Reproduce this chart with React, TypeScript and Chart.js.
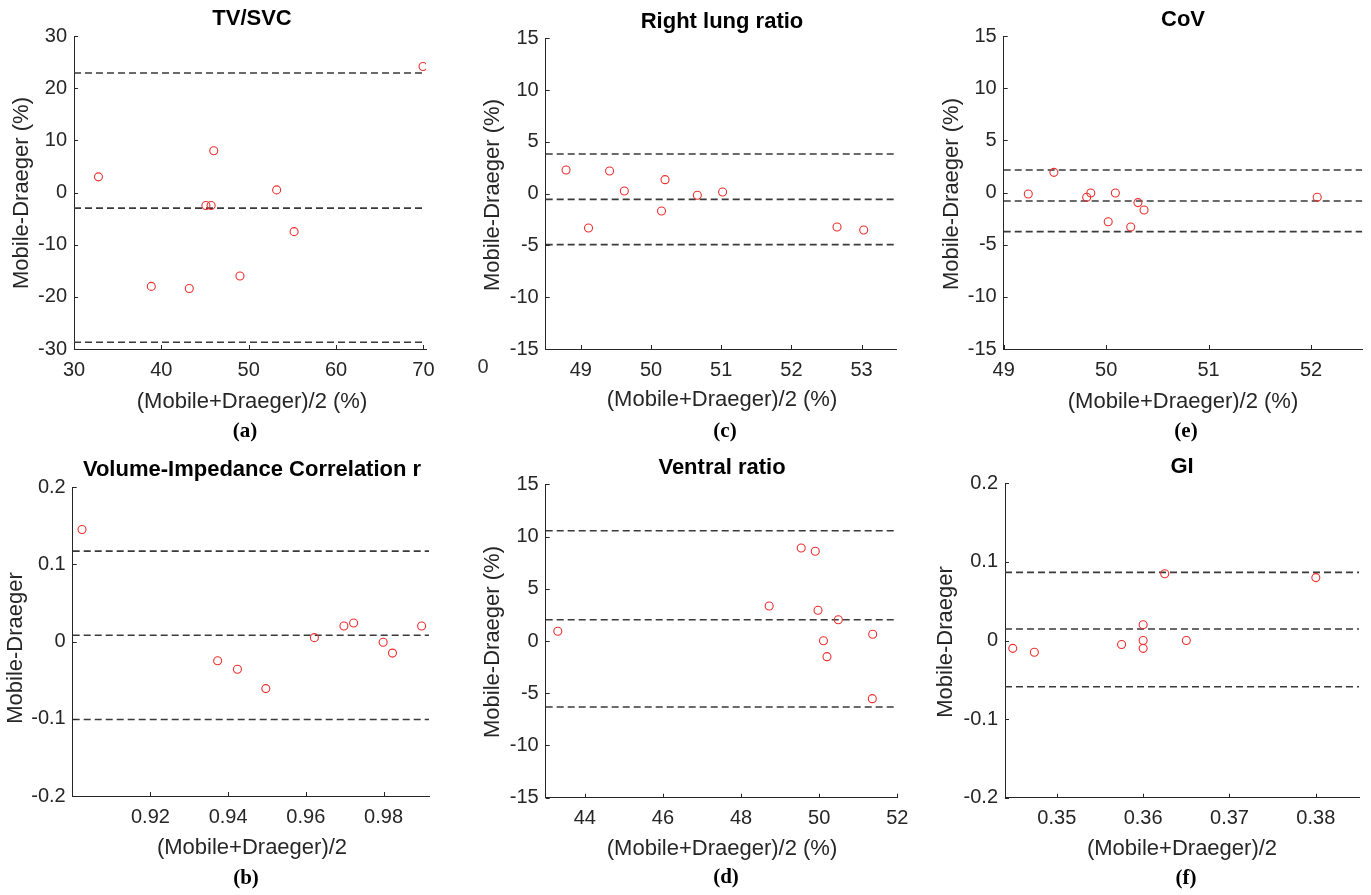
import React, { useEffect, useRef } from 'react';
import { Chart, registerables } from 'chart.js';

Chart.register(...registerables);

// ---------------- DATA ----------------
// (a) TV/SVC
const tvsvcX = [32.8, 38.85, 43.2, 45.1, 45.7, 46.0, 49.0, 53.2, 55.2, 69.96];
const tvsvcY = [3.0, -18.0, -18.4, -2.5, -2.5, 8.0, -16.0, 0.5, -7.5, 24.15];
const tvsvcLimits = [22.9, -3.0, -28.7];
const tvsvcXTicks = [30, 40, 50, 60, 70];
const tvsvcYTicks = [-30, -20, -10, 0, 10, 20, 30];
const tvsvcRange = [30, 70.3, -30, 30];

// (c) Right lung ratio
const rightX = [48.79, 49.11, 49.41, 49.62, 50.15, 50.2, 50.66, 51.02, 52.65, 53.03];
const rightY = [2.29, -3.31, 2.19, 0.26, -1.67, 1.35, -0.16, 0.16, -3.22, -3.51];
const rightLimits = [3.83, -0.55, -4.92];
const rightXTicks = [49, 50, 51, 52, 53];
const rightYTicks = [-15, -10, -5, 0, 5, 10, 15];
const rightRange = [48.5, 53.5, -15, 15];

// (e) CoV
const covX = [49.24, 49.49, 49.81, 49.85, 50.02, 50.09, 50.24, 50.31, 50.37, 52.06];
const covY = [-0.14, 1.93, -0.46, -0.05, -2.8, -0.05, -3.31, -0.97, -1.68, -0.46];
const covLimits = [2.16, -0.81, -3.75];
const covXTicks = [49, 50, 51, 52];
const covYTicks = [-15, -10, -5, 0, 5, 10, 15];
const covRange = [49, 52.5, -15, 15];

// (b) Volume-Impedance Correlation r
const corrX = [0.9024, 0.9373, 0.9424, 0.9497, 0.9622, 0.9698, 0.9723, 0.9799, 0.9823, 0.9898];
const corrY = [0.145, -0.025, -0.036, -0.061, 0.005, 0.02, 0.024, -0.001, -0.015, 0.02];
const corrLimits = [0.117, 0.008, -0.101];
const corrXTicks = [0.92, 0.94, 0.96, 0.98];
const corrYTicks = [-0.2, -0.1, 0, 0.1, 0.2];
const corrRange = [0.9, 0.9917, -0.2, 0.2];

// (d) Ventral ratio
const ventX = [43.31, 48.72, 49.54, 49.9, 49.97, 50.11, 50.2, 50.49, 51.37, 51.36];
const ventY = [0.93, 3.35, 8.9, 8.59, 2.94, 0.03, -1.5, 2.04, 0.64, -5.52];
const ventLimits = [10.56, 2.04, -6.32];
const ventXTicks = [44, 46, 48, 50, 52];
const ventYTicks = [-15, -10, -5, 0, 5, 10, 15];
const ventRange = [43, 52, -15, 15];

// (f) GI
const giX = [0.3449, 0.3474, 0.3575, 0.36, 0.36, 0.36, 0.3625, 0.365, 0.38];
const giY = [-0.01, -0.015, -0.005, 0.02, 0, -0.01, 0.085, 0, 0.08];
const giLimits = [0.0867, 0.0146, -0.0588];
const giXTicks = [0.35, 0.36, 0.37, 0.38];
const giYTicks = [-0.2, -0.1, 0, 0.1, 0.2];
const giRange = [0.344, 0.385, -0.2, 0.2];

const labelPct = 'Mobile-Draeger (%)';
const labelRaw = 'Mobile-Draeger';
const xLabelPct = '(Mobile+Draeger)/2 (%)';
const xLabelRaw = '(Mobile+Draeger)/2';

// ---------------- LAYOUT / STYLE ----------------
const SANS = '"Liberation Sans", Arial, Helvetica, sans-serif';
const SERIF = '"Liberation Serif", "Times New Roman", serif';
const AXIS_COLOR = '#262626';
const TEXT_COLOR = '#262626';
const DASH_COLOR = '#3a3a3a';
const POINT_COLOR = 'rgb(238, 45, 45)';

type Spec = {
  xs: number[]; ys: number[]; limits: number[];
  xTicks: number[]; yTicks: number[]; range: number[];
  title: string; yLabel: string; xLabel: string; caption: string;
  box: { x: number; y: number; w: number; h: number };
  plot: { L: number; T: number; R: number; B: number };
  titlePos: number[]; yLabelPos: number[]; xLabelPos: number[]; captionPos: number[];
  extra?: { text: string; x: number; y: number }[];
};

const specs: Spec[] = [
  {
    xs: tvsvcX, ys: tvsvcY, limits: tvsvcLimits, xTicks: tvsvcXTicks, yTicks: tvsvcYTicks, range: tvsvcRange,
    title: 'TV/SVC', yLabel: labelPct, xLabel: xLabelPct, caption: '(a)',
    box: { x: 0, y: 0, w: 470, h: 445 },
    plot: { L: 74, T: 36, R: 426, B: 349 },
    titlePos: [252, 19], yLabelPos: [22, 193], xLabelPos: [252, 402], captionPos: [245, 432],
  },
  {
    xs: rightX, ys: rightY, limits: rightLimits, xTicks: rightXTicks, yTicks: rightYTicks, range: rightRange,
    title: 'Right lung ratio', yLabel: labelPct, xLabel: xLabelPct, caption: '(c)',
    box: { x: 460, y: 0, w: 460, h: 445 },
    plot: { L: 545.7, T: 38.3, R: 896.7, B: 349 },
    titlePos: [722, 21.5], yLabelPos: [493, 195], xLabelPos: [722, 400], captionPos: [725, 432],
    extra: [{ text: '0', x: 483, y: 367 }],
  },
  {
    xs: covX, ys: covY, limits: covLimits, xTicks: covXTicks, yTicks: covYTicks, range: covRange,
    title: 'CoV', yLabel: labelPct, xLabel: xLabelPct, caption: '(e)',
    box: { x: 910, y: 0, w: 461, h: 445 },
    plot: { L: 1003.7, T: 36, R: 1362.3, B: 349 },
    titlePos: [1183, 20], yLabelPos: [952, 194], xLabelPos: [1183, 402], captionPos: [1186, 432],
  },
  {
    xs: corrX, ys: corrY, limits: corrLimits, xTicks: corrXTicks, yTicks: corrYTicks, range: corrRange,
    title: 'Volume-Impedance Correlation r', yLabel: labelRaw, xLabel: xLabelRaw, caption: '(b)',
    box: { x: 0, y: 445, w: 470, h: 450 },
    plot: { L: 72.7, T: 487, R: 429, B: 796 },
    titlePos: [252, 470], yLabelPos: [16, 648], xLabelPos: [252, 848], captionPos: [246, 879],
  },
  {
    xs: ventX, ys: ventY, limits: ventLimits, xTicks: ventXTicks, yTicks: ventYTicks, range: ventRange,
    title: 'Ventral ratio', yLabel: labelPct, xLabel: xLabelPct, caption: '(d)',
    box: { x: 460, y: 445, w: 460, h: 450 },
    plot: { L: 545.7, T: 484.3, R: 897.3, B: 797.7 },
    titlePos: [722, 468], yLabelPos: [493, 642], xLabelPos: [722, 849], captionPos: [726, 878],
  },
  {
    xs: giX, ys: giY, limits: giLimits, xTicks: giXTicks, yTicks: giYTicks, range: giRange,
    title: 'GI', yLabel: labelRaw, xLabel: xLabelRaw, caption: '(f)',
    box: { x: 910, y: 445, w: 461, h: 450 },
    plot: { L: 1005, T: 483.3, R: 1359, B: 797.7 },
    titlePos: [1182, 467], yLabelPos: [946, 642], xLabelPos: [1182, 849], captionPos: [1186, 879],
  },
];

const Y_SCALE_W = 50;
const X_SCALE_H = 40;

function buildConfig(spec: Spec): any {
  const { box, plot } = spec;
  const L = plot.L - box.x, T = plot.T - box.y, R = plot.R - box.x, B = plot.B - box.y;
  const [xmin, xmax, ymin, ymax] = spec.range;

  const overlay = {
    id: 'overlay' + spec.caption,
    afterDraw(chart: any) {
      const { ctx, chartArea, scales } = chart;
      const x = scales.x, y = scales.y;
      ctx.save();
      // inward tick marks
      ctx.strokeStyle = AXIS_COLOR;
      ctx.lineWidth = 1;
      x.ticks.forEach((t: any) => {
        const px = Math.round(x.getPixelForValue(t.value)) + 0.5;
        ctx.beginPath();
        ctx.moveTo(px, chartArea.bottom);
        ctx.lineTo(px, chartArea.bottom - 4);
        ctx.stroke();
      });
      y.ticks.forEach((t: any) => {
        const py = Math.round(y.getPixelForValue(t.value)) + 0.5;
        ctx.beginPath();
        ctx.moveTo(chartArea.left, py);
        ctx.lineTo(chartArea.left + 4, py);
        ctx.stroke();
      });
      ctx.textAlign = 'center';
      ctx.textBaseline = 'middle';
      // title
      ctx.fillStyle = '#000';
      ctx.font = `bold 22px ${SANS}`;
      ctx.fillText(spec.title, spec.titlePos[0] - box.x, spec.titlePos[1] - box.y);
      // x label
      ctx.fillStyle = TEXT_COLOR;
      ctx.font = `22px ${SANS}`;
      ctx.fillText(spec.xLabel, spec.xLabelPos[0] - box.x, spec.xLabelPos[1] - box.y);
      // y label
      ctx.save();
      ctx.translate(spec.yLabelPos[0] - box.x, spec.yLabelPos[1] - box.y);
      ctx.rotate(-Math.PI / 2);
      ctx.fillText(spec.yLabel, 0, 0);
      ctx.restore();
      // caption
      ctx.fillStyle = '#000';
      ctx.font = `bold 21px ${SERIF}`;
      ctx.fillText(spec.caption, spec.captionPos[0] - box.x, spec.captionPos[1] - box.y);
      // stray text
      if (spec.extra) {
        ctx.fillStyle = '#333';
        ctx.font = `20px ${SANS}`;
        spec.extra.forEach((e) => ctx.fillText(e.text, e.x - box.x, e.y - box.y));
      }
      ctx.restore();
    },
  };

  const scatter = {
    label: spec.title,
    data: spec.xs.map((v, i) => ({ x: v, y: spec.ys[i] })),
    pointStyle: 'circle',
    pointRadius: 4,
    pointBorderWidth: 1.1,
    pointBorderColor: POINT_COLOR,
    pointBackgroundColor: 'rgba(0,0,0,0)',
    borderColor: POINT_COLOR,
    backgroundColor: 'rgba(0,0,0,0)',
    showLine: false,
    order: 0,
  };
  const lines = spec.limits.map((v) => ({
    label: 'limit ' + v,
    data: [{ x: xmin, y: v }, { x: xmax, y: v }],
    showLine: true,
    pointRadius: 0,
    borderColor: DASH_COLOR,
    borderWidth: 1.6,
    borderDash: [7, 4],
    backgroundColor: 'rgba(0,0,0,0)',
    order: 1,
  }));

  const tickFont = { family: SANS, size: 20 };

  return {
    type: 'scatter',
    data: { datasets: [scatter, ...lines] },
    options: {
      animation: false,
      responsive: false,
      maintainAspectRatio: false,
      events: [],
      layout: {
        padding: { left: L - Y_SCALE_W, top: T, right: box.w - R, bottom: box.h - B - X_SCALE_H },
      },
      plugins: { legend: { display: false }, tooltip: { enabled: false }, title: { display: false } },
      scales: {
        x: {
          type: 'linear', min: xmin, max: xmax,
          grid: { display: false, drawTicks: false },
          border: { display: true, color: AXIS_COLOR, width: 1 },
          ticks: { padding: 9, font: tickFont, color: TEXT_COLOR, maxRotation: 0, callback: (v: number) => String(v) },
          afterBuildTicks: (s: any) => { s.ticks = spec.xTicks.map((v) => ({ value: v })); },
          afterFit: (s: any) => { s.height = X_SCALE_H; },
        },
        y: {
          type: 'linear', min: ymin, max: ymax,
          grid: { display: false, drawTicks: false },
          border: { display: true, color: AXIS_COLOR, width: 1 },
          ticks: { padding: 7, font: tickFont, color: TEXT_COLOR, callback: (v: number) => String(v) },
          afterBuildTicks: (s: any) => { s.ticks = spec.yTicks.map((v) => ({ value: v })); },
          afterFit: (s: any) => { s.width = Y_SCALE_W; },
        },
      },
    },
    plugins: [overlay],
  };
}

function Panel({ spec }: { spec: Spec }) {
  const ref = useRef<HTMLCanvasElement>(null);
  useEffect(() => {
    const chart = new Chart(ref.current as HTMLCanvasElement, buildConfig(spec));
    return () => chart.destroy();
  }, [spec]);
  return (
    <canvas
      ref={ref}
      width={spec.box.w}
      height={spec.box.h}
      style={{ position: 'absolute', left: spec.box.x, top: spec.box.y, width: spec.box.w, height: spec.box.h }}
    />
  );
}

export default function App() {
  return (
    <div style={{ position: 'absolute', left: 0, top: 0, width: 1371, height: 895, background: '#fff', overflow: 'hidden' }}>
      {specs.map((s) => (
        <Panel key={s.caption} spec={s} />
      ))}
    </div>
  );
}
